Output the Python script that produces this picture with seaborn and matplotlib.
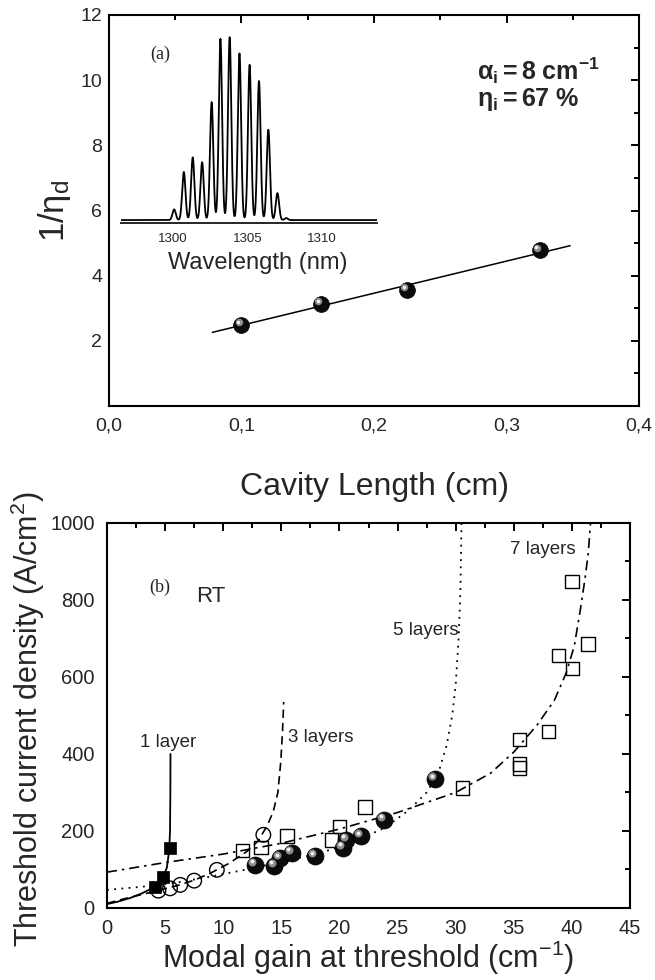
import numpy as np
import pandas as pd
import matplotlib
matplotlib.use("Agg")
import matplotlib.pyplot as plt
import seaborn as sns
from matplotlib.transforms import ScaledTranslation
from matplotlib.ticker import MultipleLocator, FixedLocator, FuncFormatter

# ---------------- data: panel (a) ----------------
cavity_len = [0.10, 0.16, 0.225, 0.325]
inv_eta_d = [2.49, 3.13, 3.57, 4.78]
fit_len = [0.078, 0.348]
fit_inv_eta = [2.26, 4.92]

# inset spectrum: lasing mode positions (nm) and peak intensities (a.u.)
peak_nm = [1300.07, 1300.72, 1301.32, 1301.95, 1302.59, 1303.18,
           1303.80, 1304.46, 1305.14, 1305.77, 1306.40, 1307.01, 1307.60]
peak_int = [0.33, 1.48, 1.93, 1.78, 3.63, 5.58, 5.63, 5.13, 4.78, 4.28,
            2.78, 0.83, 0.06]
inset_ticks = [1300, 1305, 1310]

# ---------------- data: panel (b) ----------------
sq1_gain = [4.1, 4.85, 5.45]
sq1_j = [55, 80, 157]
circ3_gain = [4.42, 5.42, 6.3, 7.5, 9.45, 13.45]
circ3_j = [45, 51, 60, 71, 99, 190]
ball5_gain = [12.75, 14.4, 14.9, 15.9, 17.9, 20.3, 20.6, 21.85, 23.85, 28.25]
ball5_j = [112, 110, 130, 144, 135, 157, 177, 187, 229, 334]
sq7_gain = [11.65, 13.25, 15.5, 19.3, 20.0, 22.2, 30.6, 35.5, 35.5, 35.5,
            38.0, 38.85, 40.05, 40.0, 41.4]
sq7_j = [149, 157, 187, 177, 212, 262, 312, 438, 374, 364,
         458, 656, 622, 848, 686]

fit1_gain = [0, 1, 2, 3, 3.8, 4.4, 4.85, 5.15, 5.35, 5.42, 5.45, 5.46]
fit1_j = [10, 17, 26, 38, 50, 62, 80, 105, 150, 200, 300, 400]
fit3_gain = [0, 1.5, 3, 4.5, 6, 7.5, 9, 10.5, 12, 13, 13.8, 14.3, 14.7,
             14.95, 15.1, 15.2]
fit3_j = [12, 24, 35, 46, 58, 72, 92, 116, 146, 174, 215, 250, 300,
          380, 460, 535]
fit5_gain = [0, 3, 6, 9, 12, 15, 18, 21, 24, 26, 27.5, 28.5, 29.2, 29.7,
             30.0, 30.25, 30.4, 30.5]
fit5_j = [47, 55, 66, 82, 100, 120, 140, 168, 210, 255, 300, 350, 420,
          500, 580, 700, 820, 1000]
fit7_gain = [0, 5, 10, 15, 20, 25, 30, 33, 35, 37, 38.5, 39.5, 40.2, 40.7,
             41.1, 41.4, 41.6]
fit7_j = [93, 118, 140, 168, 205, 248, 300, 350, 405, 475, 540, 610, 680,
          770, 850, 920, 1000]

layer_labels = ["1 layer", "3 layers", "5 layers", "7 layers"]
layer_label_pos = [(2.84, 431), (15.58, 444), (24.57, 720), (34.7, 930)]

# ---------------- style ----------------
sns.set_style("white")
plt.rcParams["font.family"] = ["Liberation Sans", "DejaVu Sans"]
plt.rcParams["mathtext.fontset"] = "custom"
plt.rcParams["mathtext.rm"] = "Liberation Sans"
plt.rcParams["mathtext.it"] = "Liberation Sans:italic"
plt.rcParams["mathtext.bf"] = "Liberation Sans:bold"
plt.rcParams["mathtext.default"] = "regular"

fig = plt.figure(figsize=(6.55, 9.80), dpi=100)
fig.patch.set_facecolor("white")


def style_axes(ax, pad_y, size):
    for sp in ax.spines.values():
        sp.set_linewidth(1.5)
        sp.set_color("black")
        sp.set_visible(True)
    ax.tick_params(which="both", direction="in", top=True, right=True,
                   width=1.4, color="black", labelsize=size)
    ax.tick_params(which="major", length=6)
    ax.tick_params(which="minor", length=3.5)
    ax.tick_params(axis="y", pad=pad_y)
    ax.tick_params(axis="x", pad=8)
    ax.set_facecolor("white")
    ax.grid(False)


def draw_balls(ax, x, y, s):
    d = np.sqrt(s)
    df = pd.DataFrame({"x": x, "y": y})
    sns.scatterplot(data=df, x="x", y="y", ax=ax, s=s, color="#0b0b0b",
                    edgecolor="#000000", linewidth=0.5, zorder=6, legend=False)
    off = ScaledTranslation(-0.17 * d / 72, 0.17 * d / 72, fig.dpi_scale_trans)
    sns.scatterplot(data=df, x="x", y="y", ax=ax, s=s * 0.22, color="#8c8c8c",
                    linewidth=0, zorder=7, legend=False,
                    transform=ax.transData + off)
    off2 = ScaledTranslation(-0.2 * d / 72, 0.2 * d / 72, fig.dpi_scale_trans)
    sns.scatterplot(data=df, x="x", y="y", ax=ax, s=s * 0.05, color="#f0f0f0",
                    linewidth=0, zorder=8, legend=False,
                    transform=ax.transData + off2)


comma = FuncFormatter(lambda v, p: ("%.1f" % v).replace(".", ","))

# ---------------- panel (a) ----------------
axa = fig.add_axes([0.1664, 0.5857, 0.8092, 0.3990])
style_axes(axa, 5, 14)
sns.lineplot(x=fit_len, y=fit_inv_eta, ax=axa, color="black", lw=1.1,
             zorder=3)
draw_balls(axa, cavity_len, inv_eta_d, 130)
axa.set_xlim(0, 0.4)
axa.set_ylim(0, 12)
axa.xaxis.set_major_locator(MultipleLocator(0.1))
axa.xaxis.set_minor_locator(MultipleLocator(0.05))
axa.yaxis.set_minor_locator(MultipleLocator(1))
axa.xaxis.set_major_formatter(comma)
axa.set_yticks([2, 4, 6, 8, 10, 12])
axa.set_xlabel("Cavity Length (cm)", fontsize=23)
axa.set_ylabel(r"1/$\eta_d$", fontsize=25)
axa.xaxis.label.set_va("center")
axa.yaxis.label.set_va("center")
axa.xaxis.set_label_coords(0.5, -81 / 391)
axa.yaxis.set_label_coords(-54 / 530, 0.5)
axa.text(0.039, 10.8, "(a)", family="Liberation Serif", fontsize=13,
         ha="center", va="center")
axa.text(0.278, 10.28, r"$\mathbf{\alpha_i = 8\ cm^{-1}}$", fontsize=18,
         ha="left", va="center")
axa.text(0.278, 9.42, r"$\mathbf{\eta_i = 67\ \%}$", fontsize=18,
         ha="left", va="center")

# inset spectrum
axi = fig.add_axes([121 / 655, 1 - 223.3 / 980, 256 / 655, 194.9 / 980])
axi.patch.set_alpha(0)
for k in ["left", "right", "top"]:
    axi.spines[k].set_visible(False)
axi.spines["bottom"].set_linewidth(1.4)
wl = np.linspace(1296.5, 1313.7, 3000)
inten = np.zeros_like(wl)
for c, h in zip(peak_nm, peak_int):
    inten += h * np.exp(-0.5 * ((wl - c) / 0.11) ** 2)
spec = pd.DataFrame({"wl": wl, "I": inten})
sns.lineplot(data=spec, x="wl", y="I", ax=axi, color="black", lw=1.3)
axi.set_xlim(1296.5, 1313.7)
axi.set_ylim(-0.1, 5.9)
axi.set_yticks([])
axi.xaxis.set_major_locator(FixedLocator(inset_ticks))
axi.xaxis.set_minor_locator(MultipleLocator(2.5))
axi.tick_params(axis="x", which="both", direction="in", labelsize=9.5,
                width=1.0, pad=7)
axi.tick_params(axis="x", which="major", length=5)
axi.tick_params(axis="x", which="minor", length=3)
axi.set_ylabel("")
axi.set_xlabel("Wavelength (nm)", fontsize=17)
axi.xaxis.label.set_va("center")
axi.xaxis.set_label_coords(0.535, -40 / 194.9)

# ---------------- panel (b) ----------------
axb = fig.add_axes([0.1634, 0.0735, 0.7985, 0.3929])
style_axes(axb, 9, 14.5)
sns.lineplot(x=fit1_gain, y=fit1_j, ax=axb, color="black", lw=1.3,
             sort=False, zorder=3)
sns.lineplot(x=fit3_gain, y=fit3_j, ax=axb, color="black", lw=1.2,
             sort=False, zorder=3, linestyle=(0, (5, 3)))
sns.lineplot(x=fit5_gain, y=fit5_j, ax=axb, color="black", lw=1.3,
             sort=False, zorder=3, linestyle=(0, (1, 3)))
sns.lineplot(x=fit7_gain, y=fit7_j, ax=axb, color="black", lw=1.2,
             sort=False, zorder=3, linestyle=(0, (6, 3, 1.5, 3)))

sns.scatterplot(x=sq7_gain, y=sq7_j, ax=axb, marker="s", s=95,
                facecolor="none", edgecolor="black", linewidth=1.0,
                zorder=4, legend=False)
sns.scatterplot(x=circ3_gain, y=circ3_j, ax=axb, marker="o", s=110,
                facecolor="none", edgecolor="black", linewidth=1.0,
                zorder=4, legend=False)
sns.scatterplot(x=sq1_gain, y=sq1_j, ax=axb, marker="s", s=80,
                color="black", edgecolor="black", linewidth=0.5,
                zorder=5, legend=False)
draw_balls(axb, ball5_gain, ball5_j, 150)

axb.set_xlim(0, 45)
axb.set_ylim(0, 1000)
axb.xaxis.set_major_locator(MultipleLocator(5))
axb.xaxis.set_minor_locator(MultipleLocator(2.5))
axb.yaxis.set_major_locator(MultipleLocator(200))
axb.yaxis.set_minor_locator(MultipleLocator(100))
axb.set_xlabel(r"Modal gain at threshold (cm$^{-1}$)", fontsize=22)
axb.set_ylabel(r"Threshold current density (A/cm$^{2}$)", fontsize=22)
axb.xaxis.label.set_va("center")
axb.yaxis.label.set_va("center")
axb.xaxis.set_label_coords(0.5, -50 / 385)
axb.yaxis.set_label_coords(-79 / 523, 0.49)
axb.text(4.5, 834, "(b)", family="Liberation Serif", fontsize=13,
         ha="center", va="center")
axb.text(8.95, 808, "RT", fontsize=16, ha="center", va="center")
for lab, (lx, ly) in zip(layer_labels, layer_label_pos):
    axb.text(lx, ly, lab, fontsize=13.5, ha="left", va="center")

fig.savefig("out.png", dpi=100, facecolor="white")
